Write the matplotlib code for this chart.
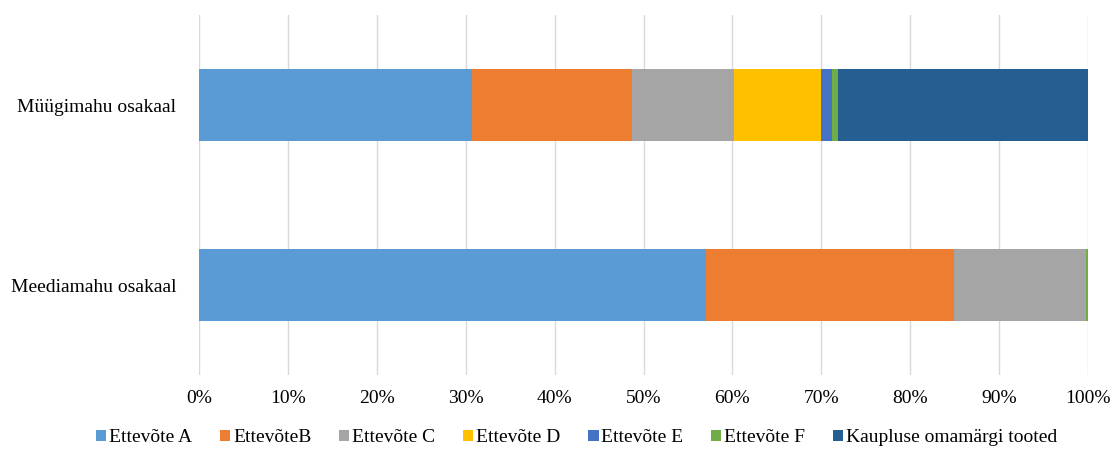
import matplotlib
matplotlib.use("Agg")
import matplotlib.pyplot as plt
from matplotlib.ticker import PercentFormatter, MultipleLocator
from matplotlib.patches import Patch

plt.rcParams['font.family'] = ['Liberation Serif', 'DejaVu Serif']

categories = ["Meediamahu osakaal", "Müügimahu osakaal"]
series_names = ["Ettevõte A", "EttevõteB", "Ettevõte C", "Ettevõte D",
                "Ettevõte E", "Ettevõte F", "Kaupluse omamärgi tooted"]
ettevote_a = [57.05, 30.7]
ettevote_b = [27.85, 18.0]
ettevote_c = [14.9, 11.5]
ettevote_d = [0.0, 9.8]
ettevote_e = [0.0, 1.2]
ettevote_f = [0.2, 0.7]
kaupluse = [0.0, 28.1]
colors = ["#5B9BD5", "#ED7D31", "#A5A5A5", "#FFC000", "#4472C4", "#70AD47", "#255E91"]

series = [ettevote_a, ettevote_b, ettevote_c, ettevote_d, ettevote_e, ettevote_f, kaupluse]

fig = plt.figure(figsize=(11.13, 4.5), dpi=100)
ax = fig.add_axes([199/1113, 1 - 375/450, (1088-199)/1113, 360/450])

ypos = list(range(len(categories)))
left = [0.0] * len(categories)
for name, vals, col in zip(series_names, series, colors):
    ax.barh(ypos, vals, left=left, height=0.4, color=col, label=name, zorder=3)
    left = [l + v for l, v in zip(left, vals)]

ax.set_xlim(0, 100)
ax.set_ylim(-0.5, 1.5)
ax.xaxis.set_major_locator(MultipleLocator(10))
ax.xaxis.set_major_formatter(PercentFormatter(100, decimals=0))
ax.set_yticks(ypos)
ax.set_yticklabels(categories)
ax.grid(axis='x', color='#D9D9D9', linewidth=1.0, zorder=0)
for s in ax.spines.values():
    s.set_visible(False)
ax.tick_params(axis='both', length=0, labelsize=14, colors='#000000')
ax.tick_params(axis='x', pad=11)
ax.tick_params(axis='y', pad=16.5)

handles = [Patch(facecolor=c, edgecolor='none') for c in colors]
fig.legend(handles, series_names, loc='center', bbox_to_anchor=(0.518, 1 - 438/450),
           ncol=7, frameon=False, fontsize=14, handlelength=0.55, handleheight=0.55,
           handletextpad=0.15, columnspacing=1.4)

fig.savefig("out.png", dpi=100, facecolor='white')
